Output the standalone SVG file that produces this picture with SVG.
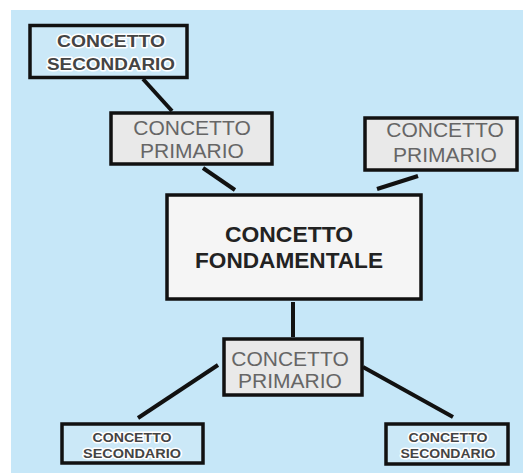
<svg xmlns="http://www.w3.org/2000/svg" width="523" height="475" viewBox="0 0 523 475">
<style>
.box{stroke:#111;stroke-width:3.5}
.prim{fill:#e9e9e9}
.main{fill:#f5f5f5}
.sec{fill:#cbe8f7}
.tp{font-family:"Liberation Sans",Arial,sans-serif;font-size:21px;fill:#666;text-anchor:middle}
.tm{font-family:"Liberation Sans",Arial,sans-serif;font-size:22px;font-weight:bold;fill:#222;text-anchor:middle}
.ts{font-family:"Liberation Sans",Arial,sans-serif;font-weight:bold;fill:#444;text-anchor:middle;stroke:#fff;stroke-width:3;paint-order:stroke;stroke-linejoin:round}
.conn line{stroke:#111;stroke-width:4;stroke-linecap:butt}
</style>
<rect x="0" y="0" width="523" height="475" fill="#fff"/>
<rect x="11" y="10" width="512" height="463" fill="#c6e7f8"/>
<g class="conn" id="connectors">
<line x1="143" y1="79" x2="172" y2="111"/>
<line x1="203" y1="168" x2="235" y2="190"/>
<line x1="418" y1="176" x2="377" y2="189"/>
<line x1="293" y1="302" x2="293" y2="337"/>
<line x1="218" y1="365" x2="138" y2="418"/>
<line x1="363" y1="367" x2="453" y2="417"/>
</g>
<g id="sec-top">
<rect class="sec box" x="30" y="25.5" width="157" height="52"/>
<text class="ts" x="111" y="47" font-size="16.5" textLength="108" lengthAdjust="spacingAndGlyphs">CONCETTO</text>
<text class="ts" x="111" y="70" font-size="16.5" textLength="128" lengthAdjust="spacingAndGlyphs">SECONDARIO</text>
</g>
<g id="prim-left">
<rect class="prim box" x="111" y="113" width="161" height="51"/>
<text class="tp" x="192" y="135">CONCETTO</text>
<text class="tp" x="192" y="158">PRIMARIO</text>
</g>
<g id="prim-right">
<rect class="prim box" x="365" y="118" width="152" height="52"/>
<text class="tp" x="445" y="137">CONCETTO</text>
<text class="tp" x="445" y="162">PRIMARIO</text>
</g>
<g id="main">
<rect class="main box" x="167" y="195" width="254" height="104"/>
<text class="tm" x="289" y="242" textLength="128" lengthAdjust="spacingAndGlyphs">CONCETTO</text>
<text class="tm" x="289" y="268" textLength="188" lengthAdjust="spacingAndGlyphs">FONDAMENTALE</text>
</g>
<g id="prim-bottom">
<rect class="prim box" x="224" y="339" width="138" height="56"/>
<text class="tp" x="290" y="366">CONCETTO</text>
<text class="tp" x="290" y="388">PRIMARIO</text>
</g>
<g id="sec-bottom-left">
<rect class="sec box" x="62" y="424" width="141" height="39"/>
<text class="ts" x="132" y="442" font-size="13.5" textLength="79" lengthAdjust="spacingAndGlyphs">CONCETTO</text>
<text class="ts" x="132" y="458" font-size="13.5" textLength="98" lengthAdjust="spacingAndGlyphs">SECONDARIO</text>
</g>
<g id="sec-bottom-right">
<rect class="sec box" x="386" y="424" width="122" height="40"/>
<text class="ts" x="448" y="442" font-size="13.5" textLength="79" lengthAdjust="spacingAndGlyphs">CONCETTO</text>
<text class="ts" x="448" y="458" font-size="13.5" textLength="95" lengthAdjust="spacingAndGlyphs">SECONDARIO</text>
</g>
</svg>
